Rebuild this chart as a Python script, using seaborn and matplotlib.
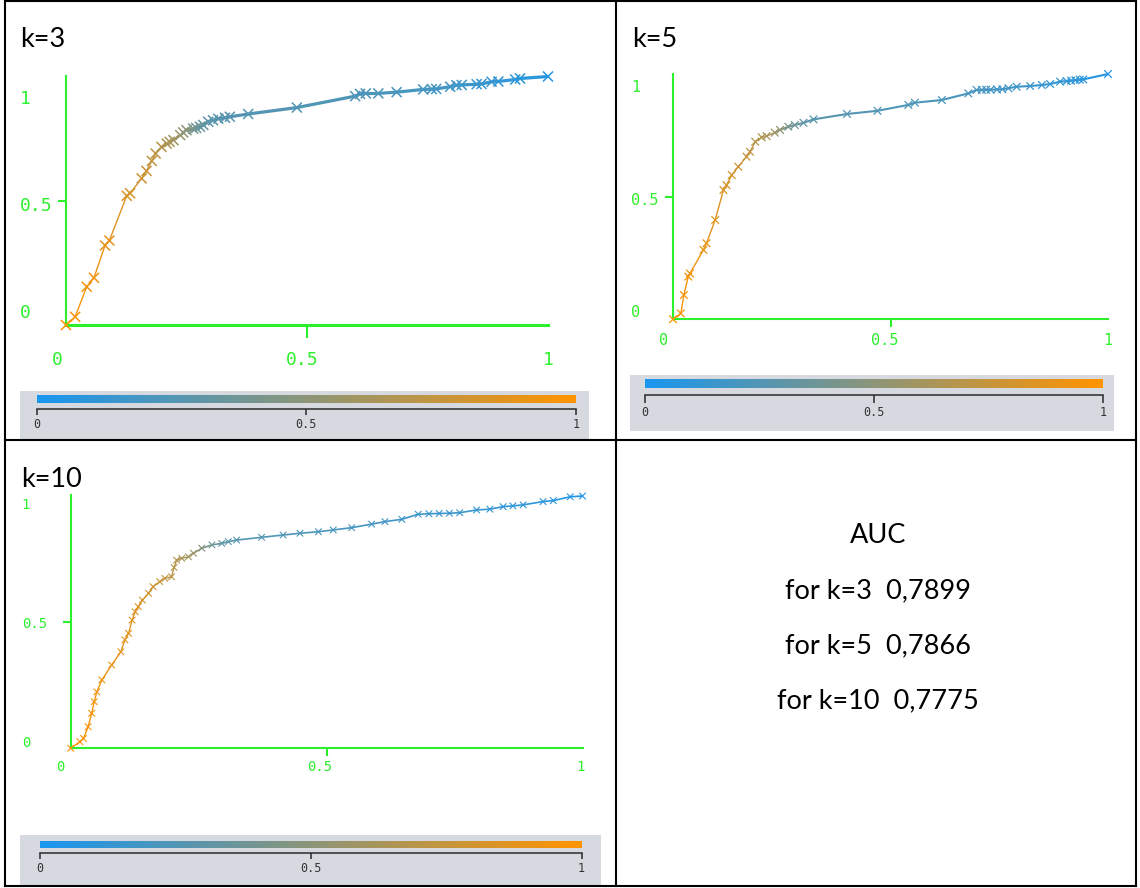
import numpy as np
import pandas as pd
import matplotlib
matplotlib.use("Agg")
import matplotlib.pyplot as plt
import seaborn as sns
from matplotlib.collections import LineCollection
from matplotlib.colors import LinearSegmentedColormap, Normalize
from matplotlib.cm import ScalarMappable
from matplotlib.patches import Rectangle
from matplotlib.lines import Line2D

# ---------------------------------------------------------------- data
# ROC points (false positive rate, true positive rate) and the score
# threshold at each point, for the three neighbourhood sizes.
fpr_k3 = [0.000, 0.019, 0.043, 0.058, 0.081, 0.090, 0.126, 0.133, 0.157, 0.167,
          0.178, 0.186, 0.198, 0.209, 0.215, 0.223, 0.237, 0.243, 0.250, 0.264,
          0.270, 0.278, 0.285, 0.295, 0.305, 0.316, 0.330, 0.340, 0.378, 0.479,
          0.600, 0.610, 0.622, 0.648, 0.686, 0.741, 0.759, 0.768, 0.797, 0.810,
          0.821, 0.852, 0.862, 0.883, 0.897, 0.932, 0.942, 1.000]
tpr_k3 = [0.000, 0.033, 0.154, 0.190, 0.320, 0.340, 0.520, 0.530, 0.590, 0.620,
          0.660, 0.690, 0.717, 0.730, 0.737, 0.744, 0.764, 0.775, 0.784, 0.790,
          0.793, 0.798, 0.805, 0.818, 0.824, 0.830, 0.834, 0.838, 0.849, 0.875,
          0.921, 0.930, 0.932, 0.932, 0.937, 0.948, 0.949, 0.950, 0.959, 0.965,
          0.966, 0.969, 0.970, 0.979, 0.980, 0.988, 0.992, 1.000]
score_k3 = [1.00, 0.98, 0.95, 0.93, 0.90, 0.88, 0.84, 0.82, 0.78, 0.76,
            0.73, 0.71, 0.68, 0.65, 0.63, 0.60, 0.56, 0.53, 0.48, 0.42,
            0.38, 0.34, 0.32, 0.30, 0.29, 0.28, 0.27, 0.27, 0.26, 0.25,
            0.24, 0.23, 0.23, 0.22, 0.21, 0.20, 0.19, 0.19, 0.18, 0.17,
            0.16, 0.15, 0.14, 0.13, 0.12, 0.10, 0.09, 0.06]

fpr_k5 = [0.000, 0.018, 0.025, 0.035, 0.039, 0.070, 0.077, 0.097, 0.116, 0.123,
          0.135, 0.150, 0.169, 0.177, 0.189, 0.204, 0.215, 0.234, 0.246, 0.265,
          0.280, 0.300, 0.323, 0.400, 0.470, 0.541, 0.556, 0.618, 0.679, 0.698,
          0.710, 0.720, 0.730, 0.745, 0.757, 0.771, 0.790, 0.821, 0.848, 0.867,
          0.890, 0.905, 0.915, 0.925, 0.935, 0.943, 1.000]
tpr_k5 = [0.000, 0.024, 0.099, 0.174, 0.187, 0.283, 0.310, 0.405, 0.527, 0.547,
          0.588, 0.622, 0.663, 0.683, 0.724, 0.742, 0.747, 0.761, 0.772, 0.785,
          0.792, 0.801, 0.815, 0.837, 0.850, 0.874, 0.883, 0.894, 0.921, 0.935,
          0.935, 0.936, 0.936, 0.937, 0.938, 0.942, 0.948, 0.951, 0.955, 0.959,
          0.969, 0.971, 0.973, 0.975, 0.977, 0.978, 1.000]
score_k5 = [1.00, 0.98, 0.97, 0.95, 0.94, 0.91, 0.90, 0.87, 0.84, 0.83,
            0.81, 0.78, 0.75, 0.73, 0.70, 0.66, 0.63, 0.58, 0.52, 0.42,
            0.36, 0.31, 0.28, 0.26, 0.25, 0.24, 0.23, 0.22, 0.21, 0.20,
            0.20, 0.19, 0.19, 0.18, 0.18, 0.17, 0.16, 0.15, 0.14, 0.13,
            0.12, 0.11, 0.10, 0.09, 0.08, 0.07, 0.05]

fpr_k10 = [0.000, 0.018, 0.025, 0.034, 0.041, 0.046, 0.051, 0.061, 0.080, 0.098,
           0.106, 0.113, 0.120, 0.126, 0.132, 0.140, 0.152, 0.161, 0.174, 0.184,
           0.197, 0.202, 0.207, 0.217, 0.230, 0.240, 0.256, 0.276, 0.295, 0.308,
           0.324, 0.373, 0.415, 0.448, 0.484, 0.513, 0.549, 0.588, 0.614, 0.647,
           0.679, 0.700, 0.720, 0.740, 0.760, 0.793, 0.819, 0.845, 0.864, 0.884,
           0.923, 0.943, 0.976, 1.000]
tpr_k10 = [0.000, 0.026, 0.039, 0.085, 0.138, 0.184, 0.223, 0.270, 0.329, 0.381,
           0.428, 0.454, 0.506, 0.539, 0.559, 0.585, 0.612, 0.638, 0.658, 0.671,
           0.677, 0.714, 0.743, 0.750, 0.756, 0.770, 0.790, 0.803, 0.809, 0.816,
           0.822, 0.833, 0.842, 0.849, 0.855, 0.862, 0.871, 0.885, 0.895, 0.904,
           0.924, 0.926, 0.927, 0.928, 0.930, 0.941, 0.944, 0.954, 0.957, 0.961,
           0.974, 0.978, 0.993, 0.996]
score_k10 = [1.00, 0.99, 0.98, 0.97, 0.96, 0.95, 0.94, 0.93, 0.91, 0.89,
             0.88, 0.87, 0.86, 0.85, 0.84, 0.82, 0.80, 0.78, 0.76, 0.74,
             0.71, 0.69, 0.67, 0.64, 0.60, 0.56, 0.47, 0.38, 0.32, 0.29,
             0.27, 0.25, 0.24, 0.23, 0.22, 0.21, 0.20, 0.19, 0.18, 0.17,
             0.16, 0.16, 0.15, 0.15, 0.14, 0.13, 0.12, 0.11, 0.10, 0.10,
             0.08, 0.07, 0.05, 0.04]

panel_titles = ["k=3", "k=5", "k=10"]
axis_ticks = [0, 0.5, 1]
axis_tick_labels = ["0", "0.5", "1"]
auc_k = ["3", "5", "10"]
auc_values = ["0,7899", "0,7866", "0,7775"]

# ---------------------------------------------------------------- style
W, H, DPI = 1140, 888, 100
GREEN = "#2cf02c"
KEY_BG = "#d6d9e0"
MONO = "DejaVu Sans Mono"

sns.set_theme(style="white")
plt.rcParams["font.family"] = ["Lato", "DejaVu Sans"]

cmap = LinearSegmentedColormap.from_list("score", ["#1896f0", "#ff9400"])
norm = Normalize(0, 1)

fig = plt.figure(figsize=(W / DPI, H / DPI), dpi=DPI)
fig.patch.set_facecolor("white")


def fbox(x0, y0, x1, y1):
    """Pixel box (origin top-left) -> figure-fraction rectangle."""
    return [x0 / W, 1 - y1 / H, (x1 - x0) / W, (y1 - y0) / H]


def roc_panel(fpr, tpr, score, box, xtick_len, ytick_len, spine_w,
              msize, mlw, lw_lo, lw_hi, fsize, xlab_off, ylab_off):
    ax = fig.add_axes(fbox(*box))
    ax.set_xlim(0, 1)
    ax.set_ylim(0, 1)
    ax.patch.set_alpha(0)
    for s in ("top", "right"):
        ax.spines[s].set_visible(False)
    ax.spines["left"].set_color(GREEN)
    ax.spines["left"].set_linewidth(1.5)
    ax.spines["bottom"].set_color(GREEN)
    ax.spines["bottom"].set_linewidth(spine_w)
    ax.set_xticks([0.5])
    ax.set_yticks([0.5])
    ax.tick_params(axis="x", length=xtick_len, width=1.5, color=GREEN,
                   direction="out", labelbottom=False, bottom=True)
    ax.tick_params(axis="y", length=ytick_len, width=1.5, color=GREEN,
                   direction="out", labelleft=False, left=True)

    # curve, coloured by threshold
    pts = np.column_stack([fpr, tpr])
    segs = np.stack([pts[:-1], pts[1:]], axis=1)
    mids = (np.asarray(score[:-1]) + np.asarray(score[1:])) / 2
    widths = np.where(mids < 0.5, lw_hi, lw_lo)
    lc = LineCollection(segs, colors=cmap(norm(mids)), linewidths=widths,
                        clip_on=False, zorder=2)
    ax.add_collection(lc)

    df = pd.DataFrame({"fpr": fpr, "tpr": tpr, "score": score})
    sns.scatterplot(data=df, x="fpr", y="tpr", hue="score", palette=cmap,
                    hue_norm=norm, marker="x", s=msize, linewidth=mlw,
                    legend=False, ax=ax, clip_on=False, zorder=3)
    ax.set_xlabel("")
    ax.set_ylabel("")

    # axis numbers
    for v, lab, (dx, dy) in zip(axis_ticks, axis_tick_labels, xlab_off):
        ax.annotate(lab, xy=(v, 0), xycoords="data", xytext=(dx, dy),
                    textcoords="offset pixels", ha="center", va="center",
                    color=GREEN, fontsize=fsize, family=MONO)
    for v, lab, (dx, dy) in zip(axis_ticks, axis_tick_labels, ylab_off):
        ax.annotate(lab, xy=(0, v), xycoords="data", xytext=(dx, dy),
                    textcoords="offset pixels", ha="left", va="center",
                    color=GREEN, fontsize=fsize, family=MONO)
    return ax


def colour_key(bg, bar, line_y, tick_len):
    fig.add_artist(Rectangle((bg[0] / W, 1 - bg[3] / H), (bg[2] - bg[0]) / W,
                             (bg[3] - bg[1]) / H, transform=fig.transFigure,
                             facecolor=KEY_BG, edgecolor="none", zorder=0))
    cax = fig.add_axes(fbox(*bar))
    cb = fig.colorbar(ScalarMappable(norm=norm, cmap=cmap), cax=cax,
                      orientation="horizontal")
    cb.outline.set_visible(False)
    cax.set_xticks([])
    cax.set_yticks([])

    sax = fig.add_axes(fbox(bar[0], line_y - 1, bar[2], line_y))
    sax.set_xlim(0, 1)
    sax.patch.set_alpha(0)
    for s in ("top", "left", "right"):
        sax.spines[s].set_visible(False)
    sax.spines["bottom"].set_color("#2a2a2a")
    sax.spines["bottom"].set_linewidth(1.1)
    sax.set_yticks([])
    sax.set_xticks(axis_ticks)
    sax.set_xticklabels(axis_tick_labels, family=MONO, fontsize=8.5,
                        color="#333333")
    sax.tick_params(axis="x", length=tick_len, width=1.1, color="#2a2a2a",
                    direction="out", pad=2, bottom=True)


# ---------------------------------------------------------------- panels
roc_panel(fpr_k3, tpr_k3, score_k3, (66, 76.5, 548, 325),
          xtick_len=9.4, ytick_len=5.8, spine_w=2.2, msize=52, mlw=1.1,
          lw_lo=1.0, lw_hi=2.3, fsize=13,
          xlab_off=[(-9, -35), (-5, -35), (0, -35)],
          ylab_off=[(-46, 12), (-46, -5), (-46, -23)])
colour_key((20, 391.5, 589, 439), (36.5, 395, 576, 402.7), 409.3, 4.5)

roc_panel(fpr_k5, tpr_k5, score_k5, (673, 74, 1108, 319.3),
          xtick_len=5.5, ytick_len=5.5, spine_w=1.5, msize=30, mlw=0.9,
          lw_lo=1.0, lw_hi=1.5, fsize=11,
          xlab_off=[(-9, -21), (-6, -21), (0, -21)],
          ylab_off=[(-42, 7), (-42, -4), (-42, -14)])
colour_key((630, 375, 1114, 430.7), (644.5, 379.3, 1103, 388.3), 395, 6)

roc_panel(fpr_k10, tpr_k10, score_k10, (70.7, 495, 582.5, 748.3),
          xtick_len=5.5, ytick_len=6, spine_w=1.5, msize=22, mlw=0.8,
          lw_lo=1.0, lw_hi=1.2, fsize=10,
          xlab_off=[(-10, -19), (-7, -19), (-1.5, -19)],
          ylab_off=[(-49, 5), (-49, -2), (-49, -10)])
colour_key((20, 834.6, 601, 885), (40.2, 841, 581.7, 847.7), 853.3, 4)

# ---------------------------------------------------------------- text
title_pos = [(20, 47.3), (632, 47.3), (21, 487.4)]
for t, (x, y) in zip(panel_titles, title_pos):
    fig.text(x / W, 1 - y / H, t, ha="left", va="baseline", fontsize=19.5,
             color="black")

auc_lines = ["AUC"] + [f"for k={k}  {v}" for k, v in zip(auc_k, auc_values)]
auc_base = [543, 598, 653, 708.5]
for line, y in zip(auc_lines, auc_base):
    fig.text(877.7 / W, 1 - y / H, line, ha="center", va="baseline",
             fontsize=19.5, color="black")

# ---------------------------------------------------------------- grid
def rule(x0, y0, x1, y1):
    fig.add_artist(Line2D([x0 / W, x1 / W], [1 - y0 / H, 1 - y1 / H],
                          transform=fig.transFigure, color="black",
                          linewidth=1.5, solid_capstyle="projecting",
                          zorder=5))

rule(5, 1, 1136, 1)
rule(5, 886, 1136, 886)
rule(5, 1, 5, 886)
rule(1136, 1, 1136, 886)
rule(616, 1, 616, 886)
rule(5, 440, 1136, 440)

fig.savefig("out.png", dpi=DPI, facecolor="white")
